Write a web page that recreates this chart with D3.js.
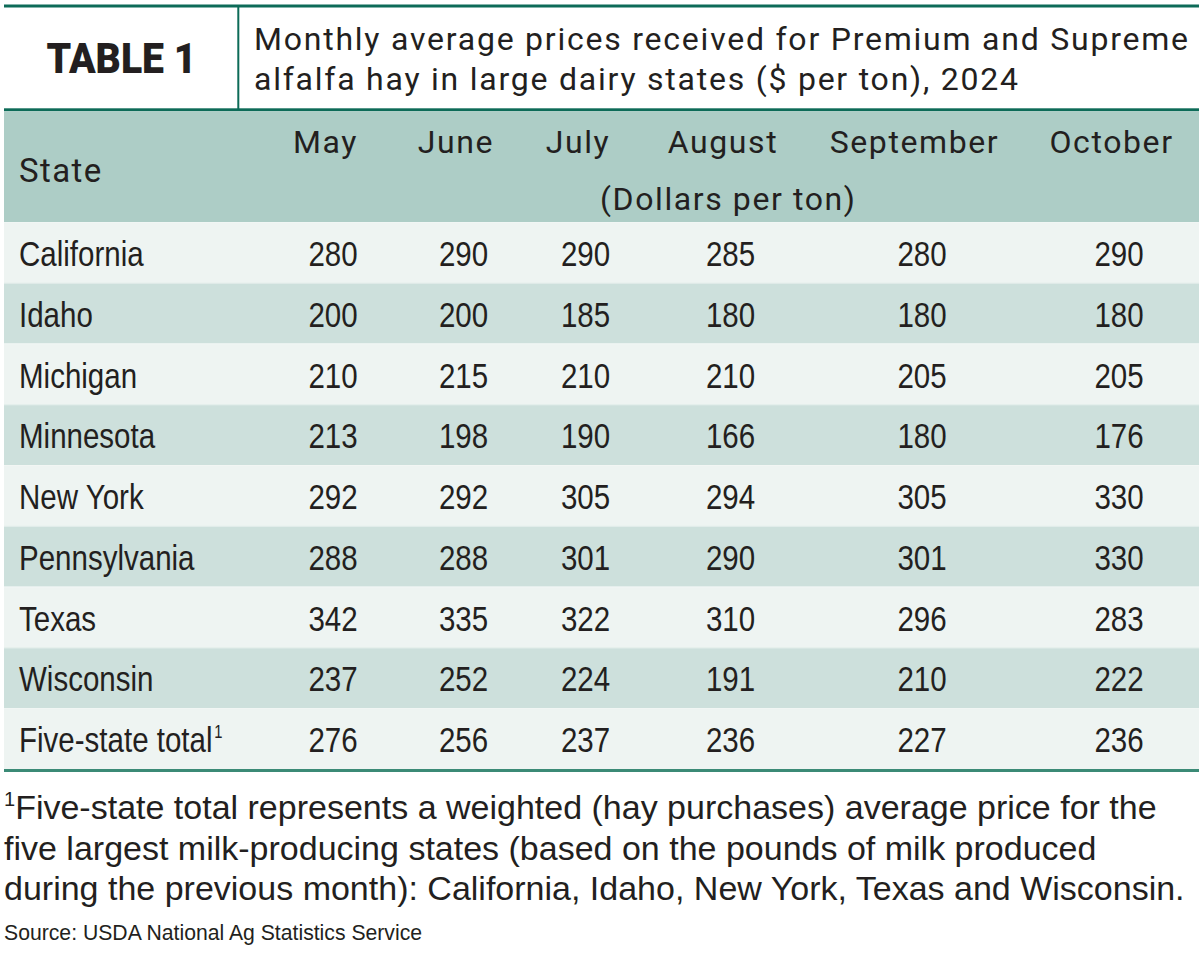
<!DOCTYPE html>
<html>
<head>
<meta charset="utf-8">
<script src="https://cdn.jsdelivr.net/npm/d3@7"></script>
<style>
  html, body { margin: 0; padding: 0; background: #ffffff; }
  svg { display: block; }
</style>
</head>
<body>
<svg id="chart" width="1200" height="975"></svg>
<script>
// ---------- data ----------
const months = ["May", "June", "July", "August", "September", "October"];
const states = ["California", "Idaho", "Michigan", "Minnesota", "New York",
                "Pennsylvania", "Texas", "Wisconsin", "Five-state total"];
const california   = [280, 290, 290, 285, 280, 290];
const idaho        = [200, 200, 185, 180, 180, 180];
const michigan     = [210, 215, 210, 210, 205, 205];
const minnesota    = [213, 198, 190, 166, 180, 176];
const newYork      = [292, 292, 305, 294, 305, 330];
const pennsylvania = [288, 288, 301, 290, 301, 330];
const texas        = [342, 335, 322, 310, 296, 283];
const wisconsin    = [237, 252, 224, 191, 210, 222];
const fiveState    = [276, 256, 237, 236, 227, 236];
const seriesValues = [california, idaho, michigan, minnesota, newYork,
                      pennsylvania, texas, wisconsin, fiveState];

const tableLabel = "TABLE 1";
const titleLines = ["Monthly average prices received for Premium and Supreme",
                    "alfalfa hay in large dairy states ($ per ton), 2024"];
const stateHeader = "State";
const unitLabel = "(Dollars per ton)";
const footnoteLines = [
  "Five-state total represents a weighted (hay purchases) average price for the",
  "five largest milk-producing states (based on the pounds of milk produced",
  "during the previous month): California, Idaho, New York, Texas and Wisconsin."
];
const sourceText = "Source: USDA National Ag Statistics Service";

// ---------- layout / style ----------
const left = 4, right = 1199;
const green = "#0d6b58", greenLight = "#3b8a76";
const headerBg = "#adcdc6", rowLight = "#eef4f2", rowDark = "#cde0dc";
const ink = "#231f20";
const headFont = "Roboto, 'Open Sans', sans-serif";
const bodyFont = "'Liberation Sans', Arial, sans-serif";
const noteFont = "'Liberation Sans', Arial, sans-serif";
const bodySize = 36, narrow = 0.82;

const svg = d3.select("#chart");

// column scale (header centres)
const colX = d3.scaleOrdinal(months, [325.5, 456, 578, 723, 914.5, 1111.5]);
const numOffset = 7.5;

// row scale
const rowY = d3.scaleBand(states, [222, 769]).paddingInner(0).paddingOuter(0);

// ---------- title block ----------
svg.append("rect").attr("x", left).attr("y", 4.5).attr("width", right - left).attr("height", 3).attr("fill", green);
svg.append("rect").attr("x", left).attr("y", 108.3).attr("width", right - left).attr("height", 3).attr("fill", green);
svg.append("rect").attr("x", 237.3).attr("y", 6).attr("width", 2).attr("height", 104).attr("fill", green);

svg.append("text")
  .attr("x", 121.5).attr("y", 73)
  .attr("text-anchor", "middle")
  .attr("font-family", headFont).attr("font-weight", 900)
  .attr("font-size", 42).attr("fill", ink)
  .attr("textLength", 150).attr("lengthAdjust", "spacingAndGlyphs")
  .text(tableLabel);

const titleTargets = [934, 764];
titleLines.forEach((t, i) => {
  svg.append("text")
    .attr("x", 254).attr("y", 50 + i * 40)
    .attr("font-family", headFont).attr("font-size", 32).attr("fill", ink)
    .attr("textLength", titleTargets[i]).attr("lengthAdjust", "spacing")
    .text(t);
});

// ---------- header ----------
svg.append("rect").attr("x", left).attr("y", 111.3).attr("width", right - left).attr("height", 222 - 111.3).attr("fill", headerBg);

svg.append("text")
  .attr("x", 19).attr("y", 182)
  .attr("font-family", headFont).attr("font-size", 33).attr("letter-spacing", 1.4).attr("fill", ink)
  .text(stateHeader);

svg.selectAll("text.month").data(months).join("text")
  .attr("class", "month")
  .attr("x", d => colX(d)).attr("y", 153)
  .attr("text-anchor", "middle")
  .attr("font-family", headFont).attr("font-size", 32).attr("letter-spacing", 1.6).attr("fill", ink)
  .text(d => d);

svg.append("text")
  .attr("x", 727.5).attr("y", 210)
  .attr("text-anchor", "middle")
  .attr("font-family", headFont).attr("font-size", 32).attr("fill", ink)
  .attr("textLength", 255).attr("lengthAdjust", "spacing")
  .text(unitLabel);

// ---------- body rows ----------
const rows = svg.selectAll("g.row").data(states).join("g")
  .attr("class", "row")
  .attr("transform", d => `translate(0,${rowY(d)})`);

rows.append("rect")
  .attr("x", left).attr("y", 0)
  .attr("width", right - left).attr("height", rowY.bandwidth())
  .attr("fill", (d, i) => i % 2 === 0 ? rowLight : rowDark);

rows.append("line")
  .attr("x1", left).attr("x2", right).attr("y1", 0.5).attr("y2", 0.5)
  .attr("stroke", "#f4f8f7").attr("stroke-width", 1).attr("opacity", 0.6);

const labels = rows.append("g")
  .attr("transform", `translate(19,44) scale(${narrow},1)`)
  .append("text")
  .attr("font-family", bodyFont).attr("font-size", bodySize).attr("fill", ink);
labels.append("tspan").text(d => d);
labels.filter(d => d === "Five-state total").append("tspan")
  .attr("font-size", 18).attr("dy", -14).attr("dx", 2).text("1");

rows.selectAll("g.val")
  .data((d, i) => seriesValues[i].map((v, j) => ({ month: months[j], value: v })))
  .join("g")
  .attr("class", "val")
  .attr("transform", d => `translate(${colX(d.month) + numOffset},44) scale(${narrow},1)`)
  .append("text")
  .attr("text-anchor", "middle")
  .attr("font-family", bodyFont).attr("font-size", bodySize).attr("fill", ink)
  .text(d => d.value);

// bottom rule
svg.append("rect").attr("x", left).attr("y", 769).attr("width", right - left).attr("height", 3).attr("fill", greenLight);

// ---------- footnote ----------
footnoteLines.forEach((t, i) => {
  const tx = svg.append("text")
    .attr("x", 4).attr("y", 819 + i * 40.5)
    .attr("font-family", noteFont).attr("font-size", 34).attr("fill", ink);
  if (i === 0) {
    tx.append("tspan").attr("font-size", 20).attr("dy", -13).text("1");
    tx.append("tspan").attr("dy", 13).text(t);
  } else {
    tx.text(t);
  }
});

svg.append("text")
  .attr("x", 4).attr("y", 940)
  .attr("font-family", noteFont).attr("font-size", 21.2).attr("fill", ink)
  .text(sourceText);
</script>
</body>
</html>
